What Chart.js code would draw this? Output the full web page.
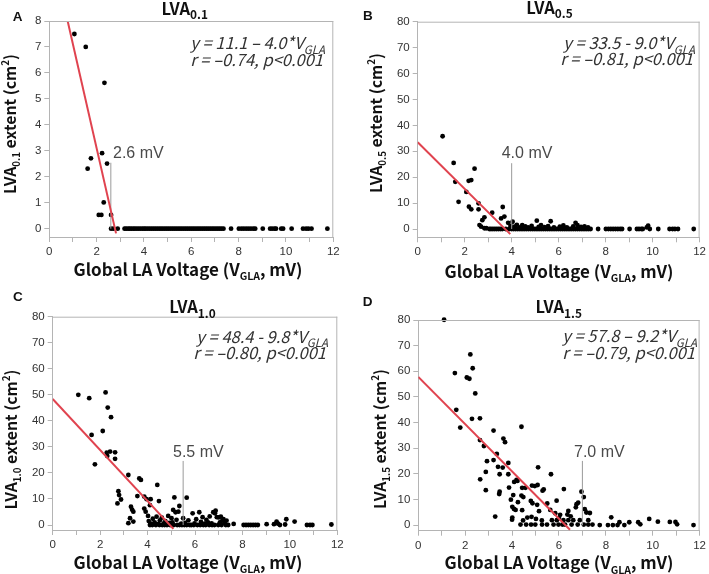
<!DOCTYPE html>
<html><head><meta charset="utf-8">
<script src="https://cdn.jsdelivr.net/npm/chart.js@4"></script>
<style>
html,body{margin:0;padding:0;background:#fff;}
#wrap{position:relative;width:709px;height:574px;overflow:hidden;}
canvas{position:absolute;}
</style></head>
<body><div id="wrap">
<canvas id="cA"></canvas><canvas id="cB"></canvas><canvas id="cC"></canvas><canvas id="cD"></canvas>
</div>
<script>
// ---------- DATA ----------
const panelLetters = ['A','B','C','D'];
const thresholdSubs = ['0.1','0.5','1.0','1.5'];
const xTicks = [0,1,2,3,4,5,6,7,8,9,10,11,12];
const yTicksA = [0,1,2,3,4,5,6,7,8];
const yTicks80 = [0,10,20,30,40,50,60,70,80];
const equations = [
  ['y = 11.1 \u2013 4.0*V', 'r = \u20130.74, p<0.001'],
  ['y = 33.5 - 9.0*V',      'r = \u20130.81, p<0.001'],
  ['y = 48.4 - 9.8*V',      'r = \u20130.80, p<0.001'],
  ['y = 57.8 \u2013 9.2*V', 'r = \u20130.79, p<0.001']
];
const cutoffs = [2.6, 4.0, 5.5, 7.0];          // mV
const cutoffTops = [2.54, 25.4, 24.6, 25.1];    // y extent of marker line
const fitA = [[0, 11.1], [2.82, -0.18]];
const fitB = [[0, 33.5], [3.94, -1.96]];
const fitC = [[0, 48.4], [5.09, -1.48]];
const fitD = [[0, 57.8], [6.47, -1.72]];

const lva01 = [
[1.06,7.5],[1.54,7.0],[2.33,5.62],[1.76,2.71],[1.62,2.31],[2.23,2.91],[2.44,2.51],[2.30,1.01],[2.09,0.53],[2.20,0.53],[2.61,0.53],
[2.61,0],[2.71,0],[2.89,0],[3.18,0],[3.25,0],[3.33,0],[3.40,0],[3.47,0],[3.55,0],[3.62,0],[3.70,0],[3.78,0],[3.86,0],[3.94,0],
[4.01,0],[4.08,0],[4.16,0],[4.24,0],[4.32,0],[4.40,0],[4.48,0],[4.56,0],[4.64,0],[4.72,0],[4.80,0],[4.88,0],[4.96,0],
[5.04,0],[5.12,0],[5.20,0],[5.28,0],[5.36,0],[5.44,0],[5.52,0],[5.60,0],[5.68,0],[5.76,0],[5.84,0],[5.92,0],
[6.00,0],[6.08,0],[6.16,0],[6.24,0],[6.32,0],[6.40,0],[6.48,0],[6.56,0],[6.64,0],[6.72,0],[6.80,0],[6.88,0],[6.96,0],
[7.04,0],[7.12,0],[7.20,0],[7.28,0],[7.36,0],[7.68,0],[8.01,0],[8.12,0],[8.22,0],[8.32,0],[8.42,0],[8.52,0],[8.62,0],[8.70,0],
[9.02,0],[9.33,0],[9.42,0],[9.52,0],[9.58,0],[9.80,0],[9.88,0],[10.24,0],[10.72,0],[10.85,0],[10.95,0],[11.08,0],[11.75,0]
];
const lva05 = [
[1.06,35.8],[1.53,25.5],[1.60,18.2],[1.74,10.5],[2.07,14.3],[2.17,18.6],[2.28,18.9],[2.42,23.3],[2.18,8.6],[2.28,7.6],
[2.59,9.9],[2.59,7.6],[3.17,6.3],[3.62,8.5],[3.55,4.1],[3.69,4.8],[2.63,1.5],[2.75,3.4],[2.84,4.5],[2.70,0.9],
[2.84,0.3],[2.92,0.3],[3.85,2.4],[4.04,2.8],[5.07,3.2],[5.66,3.0],[6.72,2.4],[9.81,1.3],
[3.95,1.2],[4.12,0.9],[4.22,1.6],[4.35,0.6],[4.45,1.5],[4.58,1.0],[4.70,0.6],[4.85,1.2],[5.15,0.8],[5.25,1.5],
[5.40,0.7],[5.55,1.1],[5.80,0.6],[6.05,0.9],[6.20,1.4],[6.35,0.6],[6.62,1.0],[6.80,1.5],[6.95,0.8],[7.10,1.0],[7.25,0.6],[9.75,0.6],
[3.05,0],[3.12,0],[3.20,0],[3.28,0],[3.36,0],[3.44,0],[3.52,0],[3.60,0],[3.75,0],[3.90,0],
[4.00,0],[4.08,0],[4.16,0],[4.24,0],[4.32,0],[4.40,0],[4.48,0],[4.56,0],[4.64,0],[4.72,0],[4.80,0],[4.88,0],[4.96,0],
[5.04,0],[5.12,0],[5.20,0],[5.28,0],[5.36,0],[5.44,0],[5.52,0],[5.60,0],[5.68,0],[5.76,0],[5.84,0],[5.92,0],
[6.00,0],[6.08,0],[6.16,0],[6.24,0],[6.32,0],[6.40,0],[6.48,0],[6.56,0],[6.64,0],[6.72,0],[6.80,0],[6.88,0],[6.96,0],
[7.04,0],[7.12,0],[7.20,0],[7.28,0],[7.36,0],[7.68,0],[8.01,0],[8.12,0],[8.22,0],[8.32,0],[8.42,0],[8.52,0],[8.62,0],[8.70,0],
[9.02,0],[9.33,0],[9.42,0],[9.52,0],[9.58,0],[9.88,0],[10.24,0],[10.72,0],[10.85,0],[10.95,0],[11.08,0],[11.75,0]
];
const lva10 = [
[1.08,50.0],[1.54,48.7],[1.64,34.6],[1.78,23.3],[2.23,50.9],[2.32,45.1],[2.46,41.4],[2.11,36.1],[2.28,27.8],[2.30,26.5],
[2.42,28.2],[2.63,27.9],[2.63,25.4],[3.19,19.2],[3.65,17.9],[3.72,17.3],[4.41,15.4],[2.77,13.0],[2.80,11.5],[2.88,9.8],
[2.73,8.3],[3.57,11.1],[3.86,10.9],[3.96,9.9],[4.13,9.9],[4.48,9.2],[3.30,7.0],[3.35,5.9],[3.40,5.1],[3.86,6.3],
[3.92,5.1],[4.10,7.6],[5.13,10.6],[5.34,7.3],[5.65,10.5],[5.30,5.1],[5.08,5.8],[5.18,4.9],[3.26,2.6],[3.19,0.7],
[3.40,1.3],[4.02,3.5],[4.05,1.5],[4.15,0.5],[4.22,2.4],[4.30,1.0],[4.38,3.2],[4.45,0.4],[4.52,1.8],[4.60,2.8],
[4.68,0.6],[4.75,1.5],[4.87,3.5],[4.92,0.8],[5.01,2.6],[5.05,1.0],[5.22,2.0],[5.42,0.5],[5.50,2.6],[5.58,0.8],
[5.72,1.8],[5.90,4.5],[5.98,0.6],[6.05,2.2],[6.18,4.9],[6.25,1.2],[6.32,3.0],[6.40,0.5],[6.48,2.0],[6.55,1.0],
[6.62,3.3],[6.70,0.6],[6.77,4.9],[6.84,4.5],[6.87,5.5],[6.92,3.0],[7.00,2.9],[7.05,1.0],[7.09,3.2],[7.15,1.7],
[7.20,2.2],[7.25,0.8],[7.33,1.7],[7.63,0.4],[4.10,0],[4.20,0],[4.35,0],[4.50,0],[4.62,0],[4.72,0],
[4.82,0],[4.95,0],[5.10,0],[5.25,0],[5.35,0],[5.45,0],[5.55,0],[5.65,0],[5.78,0],[5.85,0],
[5.95,0],[6.10,0],[6.22,0],[6.35,0],[6.45,0],[6.60,0],[6.72,0],[6.82,0],[6.98,0],[7.12,0],
[7.30,0],[7.40,0],[8.05,0],[8.15,0],[8.25,0],[8.35,0],[8.45,0],[8.55,0],[8.65,0],[9.02,0.3],
[9.33,0.3],[9.44,1.3],[9.50,0.5],[9.58,0],[9.85,2.2],[9.80,0.2],[10.20,1.3],[10.72,0],[10.85,0],[10.95,0],[11.75,0.2]
];
const lva15 = [
[1.10,80.1],[1.56,59.3],[1.62,45.0],[1.79,38.1],[2.07,57.6],[2.18,57.1],[2.22,66.6],[2.32,61.2],[2.29,41.5],[2.43,51.4],
[2.63,41.7],[2.63,33.2],[2.64,17.9],[2.80,30.9],[2.88,20.8],[2.88,13.7],[2.93,25.0],[3.21,36.9],[3.21,25.4],[3.28,3.4],
[3.35,27.8],[3.40,22.8],[3.47,19.9],[3.47,13.1],[3.45,12.2],[3.60,22.5],[3.63,33.8],[3.70,32.4],[3.84,24.3],[3.84,19.9],
[3.87,14.7],[4.01,7.2],[4.01,3.0],[4.08,6.4],[4.09,16.9],[4.19,17.7],[4.23,17.3],[4.05,11.8],[4.40,38.4],[4.36,0.3],
[4.43,14.6],[4.57,14.6],[4.85,15.5],[4.97,15.3],[5.09,15.7],[5.35,14.0],[5.30,13.5],[4.40,11.6],[4.48,11.0],[4.80,9.5],
[4.87,8.6],[5.07,8.0],[5.11,22.6],[5.66,19.9],[6.21,14.1],[5.90,9.6],[6.40,5.6],[6.36,4.2],[4.15,6.0],[4.43,5.9],
[6.96,13.1],[7.06,11.0],[6.75,8.2],[6.72,7.0],[6.82,8.8],[7.10,6.3],[7.17,5.0],[7.32,4.8],[4.00,2.2],[4.47,1.9],
[4.83,3.3],[5.02,2.5],[5.27,1.9],[5.63,6.0],[5.84,4.7],[6.05,4.1],[4.60,0.3],[4.81,0.3],[4.99,0.3],[5.28,0.3],
[5.49,0.3],[5.77,0.3],[5.98,0.3],[6.15,0.3],[6.26,0.3],[6.54,0.3],[6.80,0.3],[7.06,0.3],[7.25,0.3],[7.43,0.3],
[7.74,0.1],[8.09,0.1],[8.30,0.1],[8.50,0.1],[8.79,0.1],[5.70,2.0],[5.91,2.0],[6.19,2.0],[6.40,2.0],[6.61,2.0],
[6.89,2.0],[7.25,2.0],[8.23,3.1],[8.58,1.2],[9.00,1.2],[9.38,1.2],[9.47,0.4],[9.85,2.5],[10.22,1.4],[10.73,1.3],
[10.97,1.3],[11.04,0.4],[11.74,0.1],[5.15,5.5],[5.50,8.5],[6.00,2.8],[6.50,3.5],[4.65,3.0],[4.25,9.0],[3.95,10.0]
];

// ---------- LAYOUT (pixel geometry) ----------
const panels = [
 {cv:'cA', box:[0,0,354,287], area:[49.3,21,333.3,237], yMin:-0.32, yMax:8, yTicks:yTicksA, pts:lva01, fit:fitA,
  letter:[12.7,20.5], title:[184.7,15], yTitle:[16,124], xTitle:[188,276], eq:[325,49.3,65.7], lab:[113,158]},
 {cv:'cB', box:[354,0,355,287], area:[417.7,21.7,701.7,237.3], yMin:-3.2, yMax:80, yTicks:yTicks80, pts:lva05, fit:fitB,
  letter:[363,19.8], title:[549.5,14], yTitle:[381.7,123], xTitle:[559,278], eq:[695,49.3,65], lab:[501.7,158]},
 {cv:'cC', box:[0,287,354,287], area:[52.7,316.7,337.3,530], yMin:-1.92, yMax:80, yTicks:yTicks80, pts:lva10, fit:fitC,
  letter:[13,301], title:[192.5,313.3], yTitle:[16.7,439.5], xTitle:[188,569], eq:[328,342.7,359], lab:[173,456.7]},
 {cv:'cD', box:[354,287,355,287], area:[418.3,320,702.7,530.7], yMin:-2.1, yMax:80, yTicks:yTicks80, pts:lva15, fit:fitD,
  letter:[362.7,306], title:[558.7,313.3], yTitle:[386,439], xTitle:[559,569.3], eq:[697,342.3,359], lab:[574,456.7]}
];

const FONT_CJK = '"Noto Sans CJK JP","Noto Sans",sans-serif';
const FONT_TICK = '"Liberation Sans",Arial,sans-serif';
const YAXW = 30, XAXH = 25;

function rich(ctx, parts, x, y, align, size, weight, style, family, subScale) {
  subScale = subScale || 0.68;
  const f = p => `${style} ${weight} ${p.s ? size*subScale : size}px ${family}`;
  let w = 0;
  for (const p of parts) { ctx.font = f(p); p.w = ctx.measureText(p.t).width; w += p.w; }
  let cx = align === 'center' ? x - w/2 : align === 'right' ? x - w : x;
  ctx.textAlign = 'left'; ctx.textBaseline = 'alphabetic';
  for (const p of parts) {
    ctx.font = f(p);
    const dy = p.s === -1 ? size*0.26 : p.s === 1 ? -size*0.42 : 0;
    ctx.fillText(p.t, cx, y + dy);
    cx += p.w;
  }
  return w;
}

const decor = {
  id: 'decor',
  afterDraw(chart, args, o) {
    const ctx = chart.ctx, a = chart.chartArea, P = o.p, bx = P.box[0], by = P.box[1];
    ctx.save();
    // top & right frame
    ctx.strokeStyle = '#b4b4b4'; ctx.lineWidth = 1;
    ctx.beginPath();
    ctx.moveTo(a.left, a.top + 0.5); ctx.lineTo(a.right, a.top + 0.5);
    ctx.moveTo(a.right - 0.5, a.top); ctx.lineTo(a.right - 0.5, a.bottom);
    ctx.stroke();
    ctx.fillStyle = '#111';
    // panel letter
    ctx.font = `bold 13.5px ${FONT_TICK}`; ctx.textAlign = 'left'; ctx.textBaseline = 'alphabetic';
    ctx.fillText(o.letter, P.letter[0] - bx, P.letter[1] - by);
    // title
    rich(ctx, [{t:'LVA'},{t:o.sub,s:-1}], P.title[0]-bx, P.title[1]-by, 'center', 16.5, 'bold', 'normal', FONT_CJK, 0.72);
    // x title
    rich(ctx, [{t:'Global LA Voltage (V'},{t:'GLA',s:-1},{t:', mV)'}], P.xTitle[0]-bx, P.xTitle[1]-by, 'center', 17, 'bold', 'normal', FONT_CJK, 0.62);
    // y title rotated
    ctx.save();
    ctx.translate(P.yTitle[0]-bx, P.yTitle[1]-by);
    ctx.rotate(-Math.PI/2);
    rich(ctx, [{t:'LVA'},{t:o.sub,s:-1},{t:' extent (cm'},{t:'2',s:1},{t:')'}], 0, 0, 'center', 15.8, 'bold', 'normal', FONT_CJK, 0.62);
    ctx.restore();
    // equation
    ctx.fillStyle = '#333';
    rich(ctx, [{t:o.eq[0]},{t:'GLA',s:-1}], P.eq[0]-bx, P.eq[1]-by, 'right', 16.5, 'normal', 'italic', FONT_CJK, 0.7);
    rich(ctx, [{t:o.eq[1]}], P.eq[0]-bx-2, P.eq[2]-by, 'right', 16.5, 'normal', 'italic', FONT_CJK);
    // cutoff label
    ctx.fillStyle = '#4a4a4a';
    ctx.font = `normal 400 16px ${FONT_TICK}`; ctx.textAlign = 'left';
    ctx.fillText(o.cut.toFixed(1) + ' mV', P.lab[0]-bx, P.lab[1]-by);
    ctx.restore();
  }
};

function build(i) {
  const P = panels[i];
  const cv = document.getElementById(P.cv);
  cv.width = P.box[2]; cv.height = P.box[3];
  cv.style.left = P.box[0] + 'px'; cv.style.top = P.box[1] + 'px';
  cv.style.width = P.box[2] + 'px'; cv.style.height = P.box[3] + 'px';
  const pad = {
    left: P.area[0] - P.box[0] - YAXW,
    top: P.area[1] - P.box[1],
    right: P.box[0] + P.box[2] - P.area[2],
    bottom: P.box[1] + P.box[3] - P.area[3] - XAXH
  };
  const toXY = arr => arr.map(d => ({x: d[0], y: d[1]}));
  new Chart(cv, {
    type: 'scatter',
    data: { datasets: [
      { type:'line', data: toXY(P.fit), borderColor:'#e0434f', borderWidth:2, pointRadius:0, fill:false },
      { type:'line', data: [{x:cutoffs[i], y:0},{x:cutoffs[i], y:cutoffTops[i]}], borderColor:'#9a9a9a', borderWidth:1, pointRadius:0, fill:false },
      { data: toXY(P.pts), pointRadius:2.4, pointHoverRadius:2.4, backgroundColor:'#000', borderWidth:0, clip:false }
    ]},
    options: {
      responsive:false, animation:false, devicePixelRatio:1, events:[],
      layout:{ padding: pad },
      plugins:{ legend:{display:false}, tooltip:{enabled:false},
        decor:{ p:P, letter:panelLetters[i], sub:thresholdSubs[i], eq:equations[i], cut:cutoffs[i] } },
      scales:{
        x:{ type:'linear', min:0, max:12,
            afterBuildTicks: s => { s.ticks = xTicks.map(v => ({value:v})); },
            afterFit: s => { s.height = XAXH; },
            ticks:{ autoSkip:false, maxRotation:0, padding:3, color:'#333', font:{family:FONT_TICK, size:11.5},
                    callback: v => (v % 2 === 0 ? String(v) : '') },
            grid:{ drawOnChartArea:false, drawTicks:true, tickLength:5, color:'#b4b4b4' },
            border:{ display:true, color:'#b4b4b4' } },
        y:{ type:'linear', min:P.yMin, max:P.yMax,
            afterBuildTicks: s => { s.ticks = P.yTicks.map(v => ({value:v})); },
            afterFit: s => { s.width = YAXW; },
            ticks:{ autoSkip:false, padding:3, color:'#333', font:{family:FONT_TICK, size:11.5},
                    callback: v => String(v) },
            grid:{ drawOnChartArea:false, drawTicks:true, tickLength:5, color:'#b4b4b4' },
            border:{ display:true, color:'#b4b4b4' } }
      }
    },
    plugins:[decor]
  });
}

const fontsReady = (document.fonts && document.fonts.load) ?
  Promise.all([
    document.fonts.load(`bold 16px ${FONT_CJK}`),
    document.fonts.load(`italic 15px ${FONT_CJK}`),
    document.fonts.load(`11px ${FONT_TICK}`)
  ]).catch(()=>{}) : Promise.resolve();
fontsReady.then(() => { for (let i = 0; i < 4; i++) build(i); });
</script>
</body></html>
